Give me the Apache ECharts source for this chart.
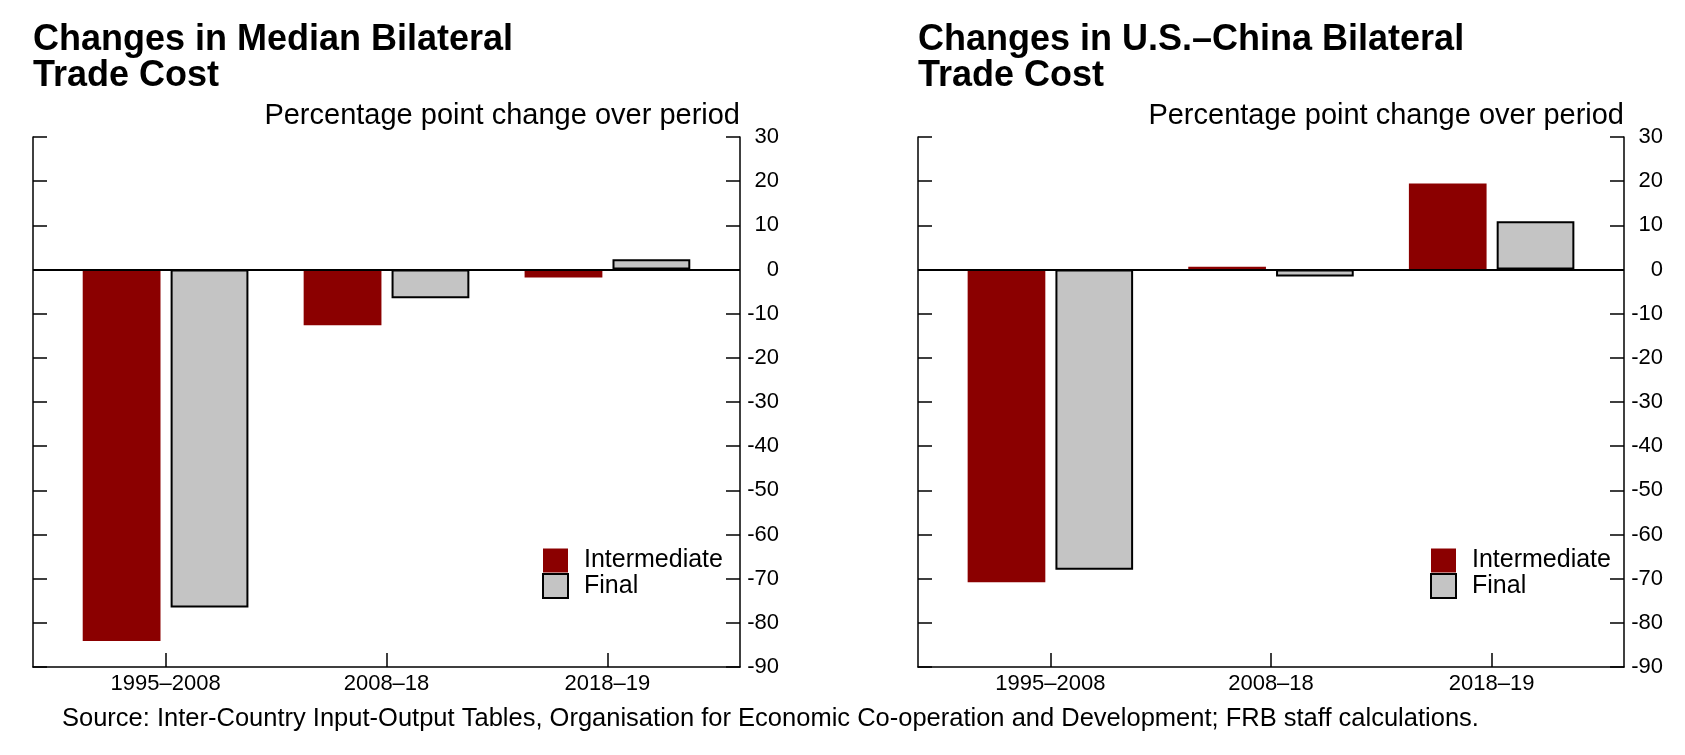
<!DOCTYPE html>
<html>
<head>
<meta charset="utf-8">
<script src="https://cdn.jsdelivr.net/npm/echarts@6/dist/echarts.min.js"></script>
<style>
html,body{margin:0;padding:0;background:#fff;}
#chart{width:1685px;height:755px;}
</style>
</head>
<body>
<div id="chart"></div>
<script>
const categories = ['1995–2008', '2008–18', '2018–19'];
const seriesNames = ['Intermediate', 'Final'];
const medianIntermediate = [-84.1, -12.6, -1.8];
const medianFinal = [-76.5, -6.5, 2.3];
const usChinaIntermediate = [-70.8, 0.6, 19.5];
const usChinaFinal = [-68.0, -1.6, 10.9];
const yMin = -90, yMax = 30, yStep = 10;
const titles = ['Changes in Median Bilateral\nTrade Cost', 'Changes in U.S.–China Bilateral\nTrade Cost'];
const unitLabel = 'Percentage point change over period';
const sourceNote = 'Source: Inter-Country Input-Output Tables, Organisation for Economic Co-operation and Development; FRB staff calculations.';

const FONT = "'Liberation Sans', Arial, Helvetica, sans-serif";
const RED = '#8b0000';
const GRAY = '#c4c4c4';
const W = 1685;
const panels = [
  {left: 33, right: 740, legendOffset: 198},
  {left: 918, right: 1624, legendOffset: 194}
];
const gridTop = 137, gridBottomY = 667;

const toPairs = arr => arr.map((v, i) => [i, v]);

const option = {
  animation: false,
  backgroundColor: '#fff',
  textStyle: {fontFamily: FONT, color: '#000'},
  title: [],
  legend: [],
  grid: [],
  xAxis: [],
  yAxis: [],
  series: []
};

panels.forEach((p, k) => {
  option.title.push({
    text: titles[k], left: p.left, top: 22, padding: 0,
    textStyle: {fontFamily: FONT, fontSize: 36, fontWeight: 'bold', lineHeight: 36, color: '#000'}
  });
  option.title.push({
    text: unitLabel, right: W - p.right, top: 100, padding: 0,
    textStyle: {fontFamily: FONT, fontSize: 29, fontWeight: 'normal', lineHeight: 32, color: '#000'}
  });
  option.grid.push({left: p.left, right: W - p.right, top: gridTop, bottom: 755 - gridBottomY, containLabel: false});
  option.xAxis.push({
    type: 'value', gridIndex: k, min: -0.6, max: 2.6,
    splitLine: {show: false},
    axisLine: {show: true, onZero: false, lineStyle: {color: '#000', width: 1.5}},
    axisTick: {show: true, inside: true, length: 14, customValues: [0, 1, 2], lineStyle: {color: '#000', width: 1.5}},
    axisLabel: {show: true, customValues: [0, 1, 2], margin: 6, fontSize: 22, color: '#000', fontFamily: FONT,
      formatter: v => categories[Math.round(v)] || ''}
  });
  option.yAxis.push({
    type: 'value', gridIndex: k, position: 'left', min: yMin, max: yMax, interval: yStep,
    splitLine: {show: false},
    axisLine: {show: true, onZero: false, lineStyle: {color: '#000', width: 1.5}},
    axisTick: {show: true, inside: true, length: 14, lineStyle: {color: '#000', width: 1.5}},
    axisLabel: {show: false}
  });
  option.yAxis.push({
    type: 'value', gridIndex: k, position: 'right', min: yMin, max: yMax, interval: yStep,
    splitLine: {show: false},
    axisLine: {show: true, onZero: false, lineStyle: {color: '#000', width: 1.5}},
    axisTick: {show: true, inside: true, length: 14, lineStyle: {color: '#000', width: 1.5}},
    axisLabel: {show: true, align: 'right', margin: 39, fontSize: 22, color: '#000', fontFamily: FONT}
  });
  const inter = k === 0 ? medianIntermediate : usChinaIntermediate;
  const fin = k === 0 ? medianFinal : usChinaFinal;
  option.series.push({
    name: seriesNames[0], type: 'bar', xAxisIndex: k, yAxisIndex: 2 * k + 1,
    data: toPairs(inter), barCategoryGap: '25%', barGap: '13%',
    itemStyle: {color: RED, borderWidth: 0},
    emphasis: {disabled: true}
  });
  option.series.push({
    name: seriesNames[1], type: 'bar', xAxisIndex: k, yAxisIndex: 2 * k + 1,
    data: toPairs(fin), barCategoryGap: '25%', barGap: '13%',
    itemStyle: {color: GRAY, borderColor: '#000', borderWidth: 2},
    emphasis: {disabled: true},
    markLine: {
      silent: true, symbol: 'none', label: {show: false},
      lineStyle: {color: '#000', width: 2, type: 'solid'},
      data: [{yAxis: 0}]
    }
  });
  option.legend.push({
    orient: 'vertical', left: p.right - p.legendOffset, top: 548, padding: 0,
    itemWidth: 25, itemHeight: 24, itemGap: 0,
    icon: 'rect', selectedMode: false,
    textStyle: {fontFamily: FONT, fontSize: 25, color: '#000', lineHeight: 25, padding: [0, 0, 0, 11]},
    data: [
      {name: seriesNames[0], itemStyle: {color: RED, borderWidth: 0}},
      {name: seriesNames[1], itemStyle: {color: GRAY, borderColor: '#000', borderWidth: 2}}
    ]
  });
});

option.title.push({
  text: sourceNote, left: 62, top: 705, padding: 0,
  textStyle: {fontFamily: FONT, fontSize: 25.5, fontWeight: 'normal', lineHeight: 28, color: '#000'}
});

const chart = echarts.init(document.getElementById('chart'), null, {renderer: 'canvas'});
chart.setOption(option);
</script>
</body>
</html>
